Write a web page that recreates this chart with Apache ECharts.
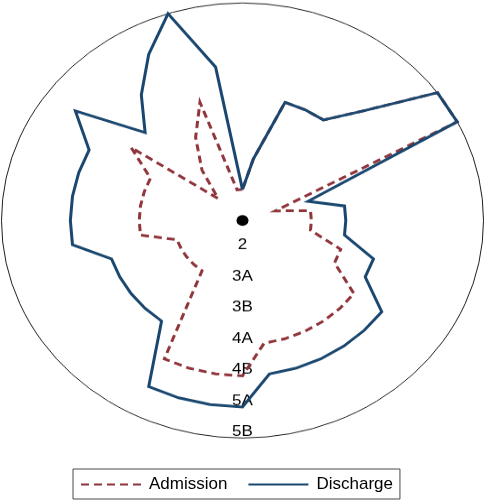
<!DOCTYPE html>
<html>
<head>
<meta charset="utf-8">
<script src="https://cdn.jsdelivr.net/npm/echarts@6/dist/echarts.min.js"></script>
<style>
html, body { margin: 0; padding: 0; background: #ffffff; }
#wrap { position: relative; width: 487px; height: 500px; overflow: hidden; }
#radar { position: absolute; left: 0; top: 0; width: 487px; height: 490px;
         transform: scaleY(0.9025); transform-origin: 0 0; }
#legend { position: absolute; left: 0; top: 0; width: 487px; height: 500px; }
</style>
</head>
<body>
<div id="wrap"><div id="radar"></div><div id="legend"></div></div>
<script>
// Level scale shown on the downward spoke (value 1 = "2" ... value 7 = "5B")
const levelLabels = ['2', '3A', '3B', '4A', '4B', '5A', '5B'];
const levelMin = 0;
const levelMax = 7;

// 40 spokes, 9 degrees apart, listed counterclockwise starting at the top spoke
const admission = [1, 1, 4, 3, 2, 1, 4, 3, 3, 3,
                   3, 3, 2, 2, 2, 2, 2, 5, 5, 5,
                   5, 4, 4, 4, 4, 4, 4, 3, 3, 2,
                   2, 2, 1, 7, 7, 5, 4, 4, 4, 2];
const discharge = [1, 5, 7, 6, 5, 4, 6, 5, 5, 5,
                   5, 5, 4, 4, 4, 4, 4, 6, 6, 6,
                   6, 5, 5, 5, 5, 5, 5, 4, 4, 3,
                   3, 3, 2, 7, 7, 5, 4, 4, 4, 2];
const seriesNames = ['Admission', 'Discharge'];

const FONT = '"Liberation Sans", Arial, Helvetica, sans-serif';
const RED = '#90353b';
const NAVY = '#1a476f';

const labelSpoke = admission.length / 2; // the spoke pointing straight down

const indicator = admission.map(function (_, i) {
  const ind = { name: '', min: levelMin, max: levelMax };
  if (i === labelSpoke) {
    ind.axisLabel = {
      show: true,
      margin: 0,
      align: 'center',
      verticalAlign: 'bottom',
      lineHeight: 14,
      fontSize: 17,
      fontFamily: FONT,
      color: '#000',
      formatter: function (v) { return levelLabels[v - 1] || ''; }
    };
    ind.axisLine = {
      show: true,
      symbol: ['circle', 'none'],
      symbolSize: [12, 13.3],
      lineStyle: { color: '#000', width: 0 }
    };
  }
  return ind;
});

const ringColors = ['rgba(0,0,0,0)', 'rgba(0,0,0,0)', 'rgba(0,0,0,0)', 'rgba(0,0,0,0)',
                    'rgba(0,0,0,0)', 'rgba(0,0,0,0)', 'rgba(0,0,0,0)', '#1e1e1e'];

const radarChart = echarts.init(document.getElementById('radar'), null, { renderer: 'canvas' });
radarChart.setOption({
  animation: false,
  radar: {
    center: [242.5, 244.3],
    radius: 241,
    startAngle: 90,
    shape: 'circle',
    splitNumber: 7,
    indicator: indicator,
    axisName: { show: false },
    axisLine: { show: false },
    axisTick: { show: false },
    axisLabel: { show: false },
    splitArea: { show: false },
    splitLine: { show: true, lineStyle: { color: ringColors, width: 1 } }
  },
  series: [{
    type: 'radar',
    symbol: 'none',
    silent: true,
    data: [
      { name: seriesNames[0], value: admission,
        lineStyle: { color: RED, width: 3, type: [8, 5], join: 'miter', cap: 'butt' },
        itemStyle: { color: RED } },
      { name: seriesNames[1], value: discharge,
        lineStyle: { color: NAVY, width: 3, type: 'solid', join: 'miter' },
        itemStyle: { color: NAVY } }
    ]
  }]
});

const legendChart = echarts.init(document.getElementById('legend'), null, { renderer: 'canvas' });
legendChart.setOption({
  animation: false,
  grid: { left: 0, top: 0, width: 1, height: 1, show: false },
  xAxis: { show: false, type: 'category', data: [] },
  yAxis: { show: false, type: 'value' },
  legend: {
    data: seriesNames,
    left: 73,
    top: 469,
    orient: 'horizontal',
    selectedMode: false,
    itemWidth: 60,
    itemHeight: 14,
    itemGap: 20,
    padding: [7, 7, 6, 7],
    borderColor: '#4a4a4a',
    borderWidth: 1,
    borderRadius: 0,
    itemStyle: { opacity: 0 },
    lineStyle: { width: 2 },
    textStyle: { fontSize: 17, fontFamily: FONT, color: '#000', padding: [0, 0, 0, 3] }
  },
  series: [
    { type: 'line', name: seriesNames[0], data: [], symbol: 'none',
      lineStyle: { color: RED, width: 3, type: [8, 5] }, itemStyle: { color: RED } },
    { type: 'line', name: seriesNames[1], data: [], symbol: 'none',
      lineStyle: { color: NAVY, width: 3, type: 'solid' }, itemStyle: { color: NAVY } }
  ]
});
</script>
</body>
</html>
